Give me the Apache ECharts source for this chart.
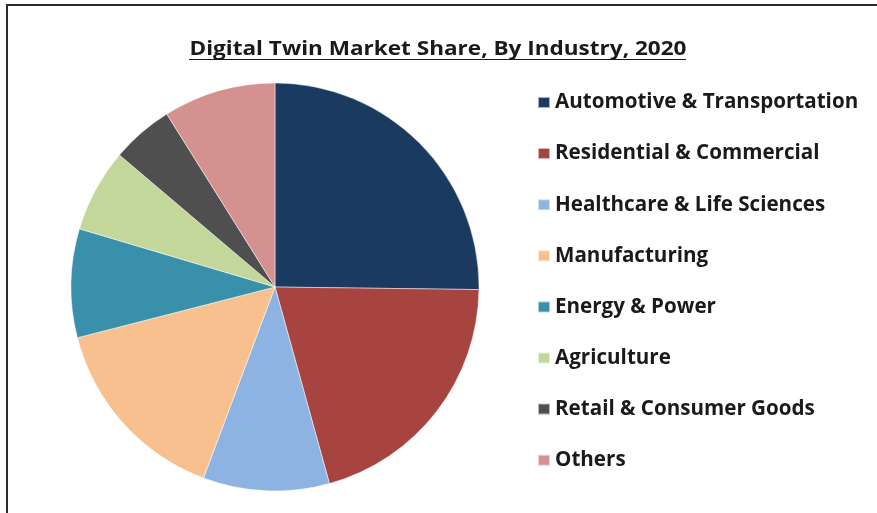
<!DOCTYPE html>
<html>
<head>
<meta charset="utf-8">
<style>
  html, body { margin: 0; padding: 0; background: #ffffff; }
  #chart { width: 877px; height: 513px; }
</style>
<script src="https://cdn.jsdelivr.net/npm/echarts@6/dist/echarts.min.js"></script>
</head>
<body>
<div id="chart"></div>
<script>
// Digital twin market share by industry, 2020 (percent of total)
const chartTitle = 'Digital Twin Market Share, By Industry, 2020';
const industries = [
  'Automotive & Transportation',
  'Residential & Commercial',
  'Healthcare & Life Sciences',
  'Manufacturing',
  'Energy & Power',
  'Agriculture',
  'Retail & Consumer Goods',
  'Others'
];
const shares = [25.2, 20.5, 10.0, 15.3, 8.6, 6.6, 4.9, 8.9];
const sliceColors = ['#1B3A5F', '#A8443F', '#8DB3E2', '#F9C08F', '#3890AB', '#C4D79B', '#4F4F4F', '#D4918F'];

const FONT = '"Open Sans", Lato, sans-serif';

const chart = echarts.init(document.getElementById('chart'), null, { renderer: 'canvas' });

chart.setOption({
  backgroundColor: '#ffffff',
  animation: false,
  color: sliceColors,
  legend: {
    orient: 'vertical',
    left: 537,
    top: 92,
    padding: 0,
    itemWidth: 12,
    itemHeight: 11,
    itemGap: 30.1,
    icon: 'rect',
    selectedMode: false,
    data: industries,
    textStyle: { fontFamily: FONT, fontWeight: 'bold', fontSize: 20.6, lineHeight: 20, color: '#1a1a1a' }
  },
  series: [{
    type: 'pie',
    center: [275, 287],
    radius: 204,
    startAngle: 90,
    clockwise: true,
    label: { show: false },
    labelLine: { show: false },
    itemStyle: { borderColor: 'rgba(255,255,255,0.6)', borderWidth: 0.8 },
    emphasis: { disabled: true },
    data: industries.map((name, i) => ({ name: name, value: shares[i] }))
  }],
  graphic: [
    // frame lines along the top and left edges
    { type: 'line', shape: { x1: 6, y1: 5, x2: 877, y2: 5 }, style: { stroke: '#2b2b2b', lineWidth: 2 } },
    { type: 'line', shape: { x1: 7, y1: 5, x2: 7, y2: 513 }, style: { stroke: '#2b2b2b', lineWidth: 2 } },
    // underlined title, set slightly wide
    {
      type: 'text', x: 438, y: 49.5, scaleX: 1.127,
      style: {
        text: chartTitle, fill: '#1a1a1a', align: 'center', verticalAlign: 'middle',
        font: 'bold 20px ' + FONT
      }
    },
    { type: 'line', shape: { x1: 189, y1: 59.5, x2: 686, y2: 59.5 }, style: { stroke: '#1a1a1a', lineWidth: 1.2 } }
  ]
});
</script>
</body>
</html>
